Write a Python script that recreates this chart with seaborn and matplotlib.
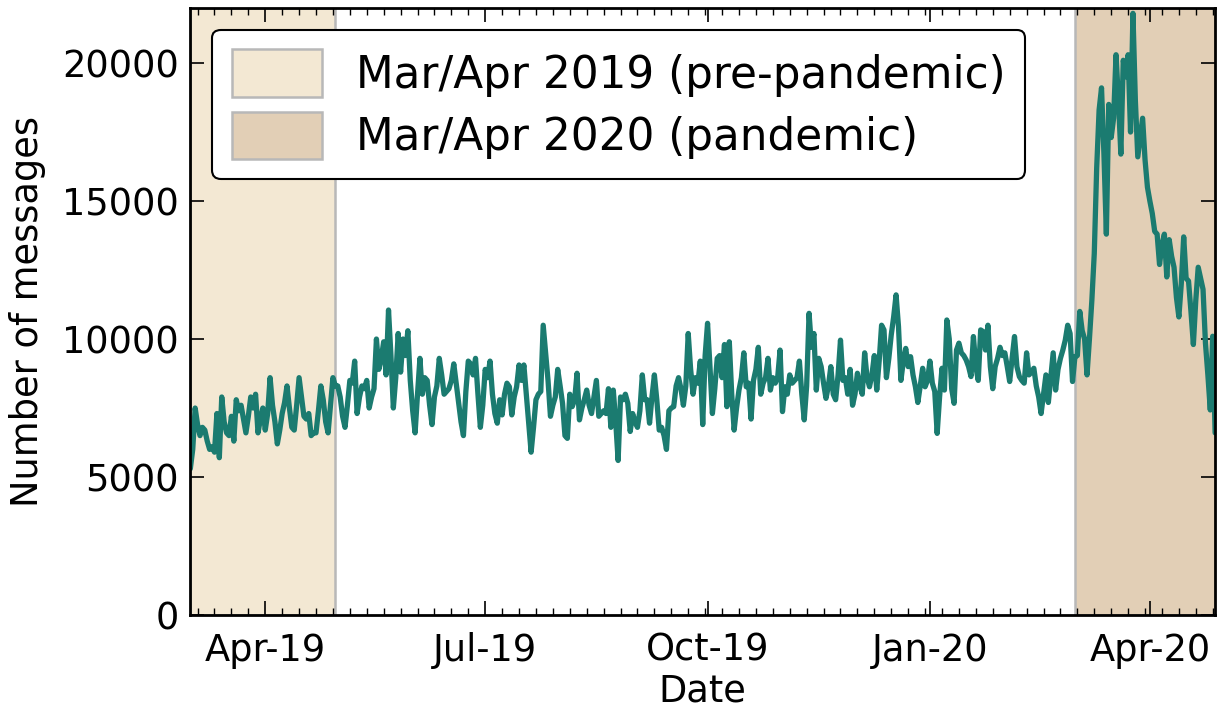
import pandas as pd
import numpy as np
import matplotlib
matplotlib.use("Agg")
import matplotlib.pyplot as plt
import matplotlib.dates as mdates
from matplotlib.patches import Patch
import seaborn as sns

# daily message counts (thousands)
mar_19 = [5.3, 6.0, 7.5, 6.9, 6.5, 6.8, 6.7, 6.3, 6.0, 6.1, 5.9, 7.3, 5.7, 7.9, 7.0, 6.6,
          6.5, 7.2, 6.3, 7.8, 7.4, 7.6, 7.1, 6.6, 7.2, 7.9, 7.5, 8.0, 6.6, 7.1, 7.5]
apr_19 = [6.7, 7.3, 8.6, 7.6, 7.0, 6.2, 6.7, 7.3, 7.7, 8.3, 7.5, 6.8, 6.7, 7.6, 8.6, 7.9,
          7.2, 7.1, 7.3, 6.5, 6.6, 6.6, 7.4, 8.3, 7.8, 7.0, 6.6, 7.6, 8.6, 8.3]
may_19 = [8.3, 7.9, 7.2, 6.8, 7.6, 8.5, 8.4, 9.2, 7.3, 7.9, 8.3, 8.2, 8.5, 7.5, 7.9, 8.2,
          10.0, 8.9, 9.3, 9.9, 8.7, 11.05, 9.4, 7.5, 8.6, 10.2, 8.8, 10.0, 9.4, 10.3, 8.5]
jun_19 = [7.4, 6.6, 8.0, 9.3, 8.0, 8.6, 8.5, 7.6, 6.9, 7.9, 8.3, 9.3, 8.7, 8.0, 8.1, 8.2,
          8.5, 9.1, 8.4, 7.7, 7.0, 6.5, 8.1, 9.2, 9.1, 8.7, 9.3, 8.0, 6.8, 7.6]
jul_19 = [8.9, 8.6, 9.2, 8.0, 7.3, 6.95, 7.8, 7.25, 8.0, 8.4, 8.27, 7.25, 7.9, 8.27, 9.06, 8.5,
          9.06, 8.0, 6.95, 5.9, 6.8, 7.8, 8.0, 8.1, 10.5, 9.5, 8.5, 7.2, 7.6, 7.9, 8.9]
aug_19 = [8.3, 7.67, 6.5, 6.4, 8.0, 7.55, 7.8, 8.76, 7.07, 7.5, 7.8, 8.15, 7.6, 7.3, 7.9, 8.5,
          7.2, 7.3, 7.4, 7.3, 8.2, 6.8, 8.15, 7.0, 5.6, 7.9, 7.8, 8.0, 7.67, 6.65, 7.3]
sep_19 = [7.0, 6.8, 7.4, 8.7, 7.8, 7.8, 6.95, 7.9, 8.7, 7.8, 6.7, 6.8, 6.5, 6.0, 7.4, 7.5,
          7.55, 8.3, 8.6, 8.2, 7.6, 8.3, 10.2, 8.9, 8.0, 8.6, 8.4, 9.2, 6.9, 9.4]
oct_19 = [10.57, 9.0, 7.3, 8.2, 9.3, 9.4, 8.6, 9.8, 7.55, 9.9, 8.0, 6.7, 7.5, 8.15, 8.6, 9.5,
          8.27, 8.4, 7.1, 8.5, 8.9, 9.7, 8.0, 8.4, 8.6, 9.3, 8.15, 8.6, 8.4, 8.6, 9.6]
nov_19 = [7.37, 8.27, 8.0, 8.7, 8.4, 8.5, 8.6, 9.2, 8.0, 7.07, 8.3, 10.93, 9.7, 10.2, 8.15, 9.3,
          9.0, 8.4, 7.85, 8.3, 9.0, 8.0, 7.8, 8.7, 9.96, 8.5, 8.6, 8.0, 8.9, 7.6]
dec_19 = [8.0, 8.76, 8.3, 8.0, 9.5, 8.6, 8.27, 8.7, 9.4, 8.15, 9.2, 10.5, 10.33, 8.6, 9.3, 10.15,
          10.8, 11.6, 10.45, 8.5, 9.2, 9.66, 9.0, 9.36, 8.7, 8.27, 7.7, 8.3, 8.94, 8.27, 8.5]
jan_20 = [9.2, 8.4, 8.1, 6.58, 7.9, 8.94, 8.15, 10.69, 10.0, 8.2, 7.67, 9.6, 9.85, 9.5, 9.4, 9.24,
          9.0, 8.64, 10.09, 9.0, 8.5, 10.33, 10.27, 9.6, 10.5, 9.0, 8.2, 9.0, 9.3, 9.7, 9.4]
feb_20 = [9.5, 9.0, 8.46, 9.3, 10.09, 9.0, 8.64, 8.5, 8.4, 9.5, 8.7, 8.8, 8.94, 8.3, 7.9, 7.3,
          8.0, 8.7, 7.7, 8.6, 9.5, 8.15, 8.9, 9.3, 9.6, 9.96, 10.5, 10.2, 8.46]
mar_20 = [9.36, 9.4, 11.0, 10.3, 10.0, 8.7, 10.0, 11.4, 13.1, 16.2, 18.3, 19.1, 16.7, 13.8, 18.5, 17.3,
          18.0, 20.3, 18.65, 16.7, 20.1, 19.5, 20.3, 17.5, 21.8, 18.65, 16.6, 17.3, 18.0, 16.5, 15.5]
apr_20 = [15.0, 14.55, 13.9, 13.8, 12.7, 13.4, 13.8, 12.25, 13.6, 13.0, 12.6, 11.5, 10.8, 12.0,
          13.7, 12.2, 12.1, 11.0, 9.8, 11.4, 12.6, 12.2, 11.8, 9.85, 8.7, 7.43, 10.1, 6.6]

months = [mar_19, apr_19, may_19, jun_19, jul_19, aug_19, sep_19, oct_19,
          nov_19, dec_19, jan_20, feb_20, mar_20, apr_20]
counts = np.concatenate(months) * 1000
dates = pd.date_range("2019-03-01", periods=len(counts), freq="D")
df = pd.DataFrame({"Date": dates, "Messages": counts})

periods = [("2019-03-01", "2019-04-30", "#f3e8d3", "Mar/Apr 2019 (pre-pandemic)"),
           ("2020-03-01", "2020-04-30", "#e2cfb6", "Mar/Apr 2020 (pandemic)")]

sns.set_style("ticks")
plt.rcParams["font.family"] = ["DejaVu Sans"]
plt.rcParams["font.size"] = 26.5
for k in ["text.color", "axes.labelcolor", "xtick.color", "ytick.color"]:
    plt.rcParams[k] = "black"

fig = plt.figure(figsize=(12.2, 7.11), dpi=100)
ax = fig.add_axes([0.156, 0.135, 0.84, 0.854])

handles = []
for start, end, col, lab in periods:
    ax.axvspan(pd.Timestamp(start), pd.Timestamp(end), facecolor=col,
               edgecolor="#b8b8b8", linewidth=1.8, zorder=0)
    handles.append(Patch(facecolor=col, edgecolor="#b8b8b8", linewidth=1.8, label=lab))

sns.lineplot(data=df, x="Date", y="Messages", color="#1b7b70", linewidth=3.8, ax=ax)

ax.set_xlim(dates[0], dates[-1])
ax.set_ylim(0, 22000)
ax.set_yticks([0, 5000, 10000, 15000, 20000])
ax.xaxis.set_major_locator(mdates.MonthLocator(bymonth=[1, 4, 7, 10]))
ax.xaxis.set_major_formatter(mdates.DateFormatter("%b-%y"))
ax.xaxis.set_minor_locator(mdates.WeekdayLocator(byweekday=mdates.MO))
ax.tick_params(axis="both", which="both", direction="in", top=True, right=True,
               labelsize=26.5)
ax.tick_params(axis="x", which="major", pad=12)
ax.tick_params(axis="y", which="major", pad=8)
ax.tick_params(which="major", length=10, width=1.2)
ax.tick_params(which="minor", length=5, width=1)
for s in ax.spines.values():
    s.set_linewidth(2)
    s.set_color("black")
ax.set_xlabel("Date", fontsize=26.5, labelpad=3)
ax.set_ylabel("Number of messages", fontsize=26.5, labelpad=12)

leg = ax.legend(handles=handles, loc="upper left", fontsize=31.5, frameon=True,
                fancybox=True, handlelength=2.06, handleheight=1.3, handletextpad=0.78,
                labelspacing=0.33, borderpad=0.45, borderaxespad=0.5)
leg.get_frame().set_edgecolor("black")
leg.get_frame().set_linewidth(1.5)
leg.get_frame().set_alpha(1)

fig.savefig("out.png", dpi=100)
